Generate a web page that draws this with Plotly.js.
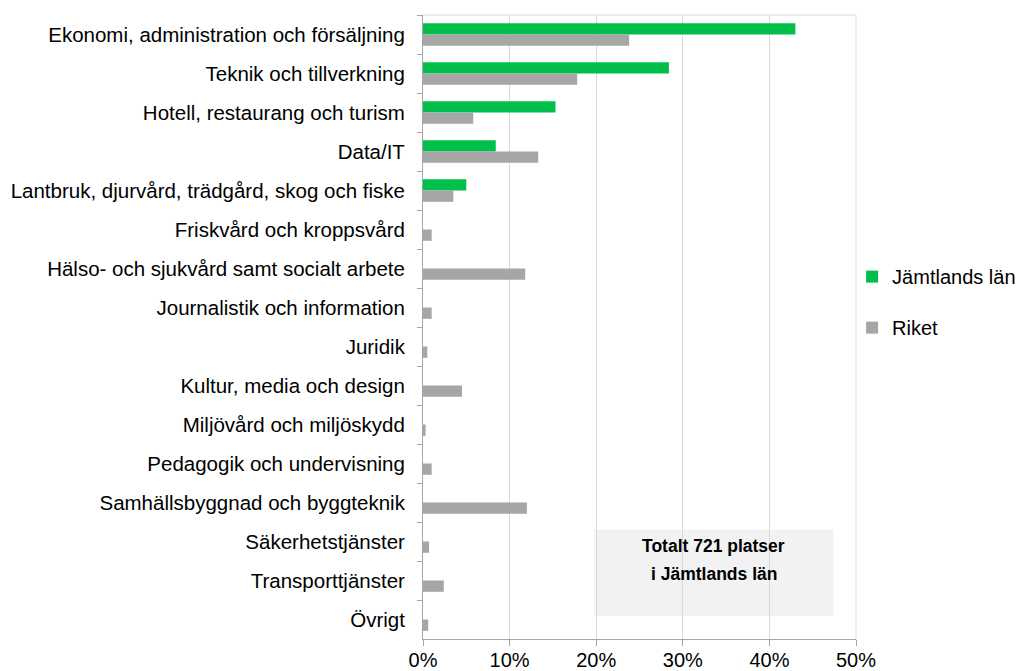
<!DOCTYPE html>
<html>
<head>
<meta charset="utf-8">
<script src="https://cdn.plot.ly/plotly-3.0.1.min.js"></script>
<style>html,body{margin:0;padding:0;background:#fff;}#chart{width:1019px;height:671px;}</style>
</head>
<body>
<div id="chart"></div>
<script>
var categories = [
  "Ekonomi, administration och försäljning",
  "Teknik och tillverkning",
  "Hotell, restaurang och turism",
  "Data/IT",
  "Lantbruk, djurvård, trädgård, skog och fiske",
  "Friskvård och kroppsvård",
  "Hälso- och sjukvård samt socialt arbete",
  "Journalistik och information",
  "Juridik",
  "Kultur, media och design",
  "Miljövård och miljöskydd",
  "Pedagogik och undervisning",
  "Samhällsbyggnad och byggteknik",
  "Säkerhetstjänster",
  "Transporttjänster",
  "Övrigt"
];
var jamtland = [0.430, 0.284, 0.153, 0.084, 0.050, 0, 0, 0, 0, 0, 0, 0, 0, 0, 0, 0];
var riket =    [0.238, 0.178, 0.058, 0.133, 0.035, 0.010, 0.118, 0.010, 0.005, 0.045, 0.003, 0.010, 0.120, 0.007, 0.024, 0.006];
var xTicks = [0, 0.1, 0.2, 0.3, 0.4, 0.5];
var xTickLabels = ["0%", "10%", "20%", "30%", "40%", "50%"];
var seriesNames = ["Jämtlands län", "Riket"];
var boxLines = ["Totalt 721 platser", "i Jämtlands län"];

var font = "Liberation Sans, Arial, sans-serif";

var traces = [
  {type: "bar", orientation: "h", name: seriesNames[0], y: categories, x: jamtland,
   marker: {color: "#00c04b"}, legendgroup: "a", hoverinfo: "x+y"},
  {type: "bar", orientation: "h", name: seriesNames[1], y: categories, x: riket,
   marker: {color: "#a6a6a6"}, legendgroup: "b", hoverinfo: "x+y"}
];

var layout = {
  width: 1019, height: 671,
  margin: {l: 423, r: 163, t: 15, b: 32, pad: 0, autoexpand: false},
  paper_bgcolor: "#fff", plot_bgcolor: "#fff",
  font: {family: font, size: 20, color: "#000"},
  barmode: "group", bargap: 0.42, bargroupgap: 0,
  showlegend: true,
  legend: {x: 0.991, y: 0.612, xanchor: "left", yanchor: "top",
           bgcolor: "rgba(0,0,0,0)",
           font: {family: font, size: 20, color: "#000"},
           traceorder: "grouped", tracegroupgap: 22, itemwidth: 30},
  xaxis: {range: [0, 0.5], tickvals: xTicks, ticktext: xTickLabels,
          showgrid: true, gridcolor: "#d9d9d9", gridwidth: 1,
          zeroline: false, showline: true, linecolor: "#a6a6a6", linewidth: 1,
          ticks: "outside", ticklen: 6, tickcolor: "#a6a6a6", ticklabelstandoff: -3,
          tickfont: {family: font, size: 20, color: "#000"}, fixedrange: true},
  yaxis: {type: "category", autorange: "reversed",
          showline: true, linecolor: "#a6a6a6", linewidth: 1,
          ticks: "outside", ticklen: 5, tickcolor: "#a6a6a6", tickson: "boundaries",
          showgrid: false, zeroline: false, ticklabelstandoff: 13,
          tickfont: {family: font, size: 20.5, color: "#000"}, fixedrange: true},
  shapes: [
    {type: "line", xref: "paper", yref: "paper", x0: 0, x1: 1, y0: 1, y1: 1,
     line: {color: "#d9d9d9", width: 1}},
    {type: "line", xref: "paper", yref: "paper", x0: 1, x1: 1, y0: 0, y1: 1,
     line: {color: "#d9d9d9", width: 1}},
    {type: "rect", xref: "x", yref: "paper", x0: 0.198, x1: 0.474, y0: 0.037, y1: 0.175,
     fillcolor: "#f2f2f2", line: {width: 0}, layer: "below"}
  ],
  annotations: [
    {xref: "x", yref: "paper", x: 0.336, y: 0.1305, text: "<b>" + boxLines[0] + "</b>",
     showarrow: false, font: {family: font, size: 17.5, color: "#000"}},
    {xref: "x", yref: "paper", x: 0.336, y: 0.0845, text: "<b>" + boxLines[1] + "</b>",
     showarrow: false, font: {family: font, size: 17.5, color: "#000"}}
  ]
};

Plotly.newPlot("chart", traces, layout, {displayModeBar: false, staticPlot: true});
</script>
</body>
</html>
